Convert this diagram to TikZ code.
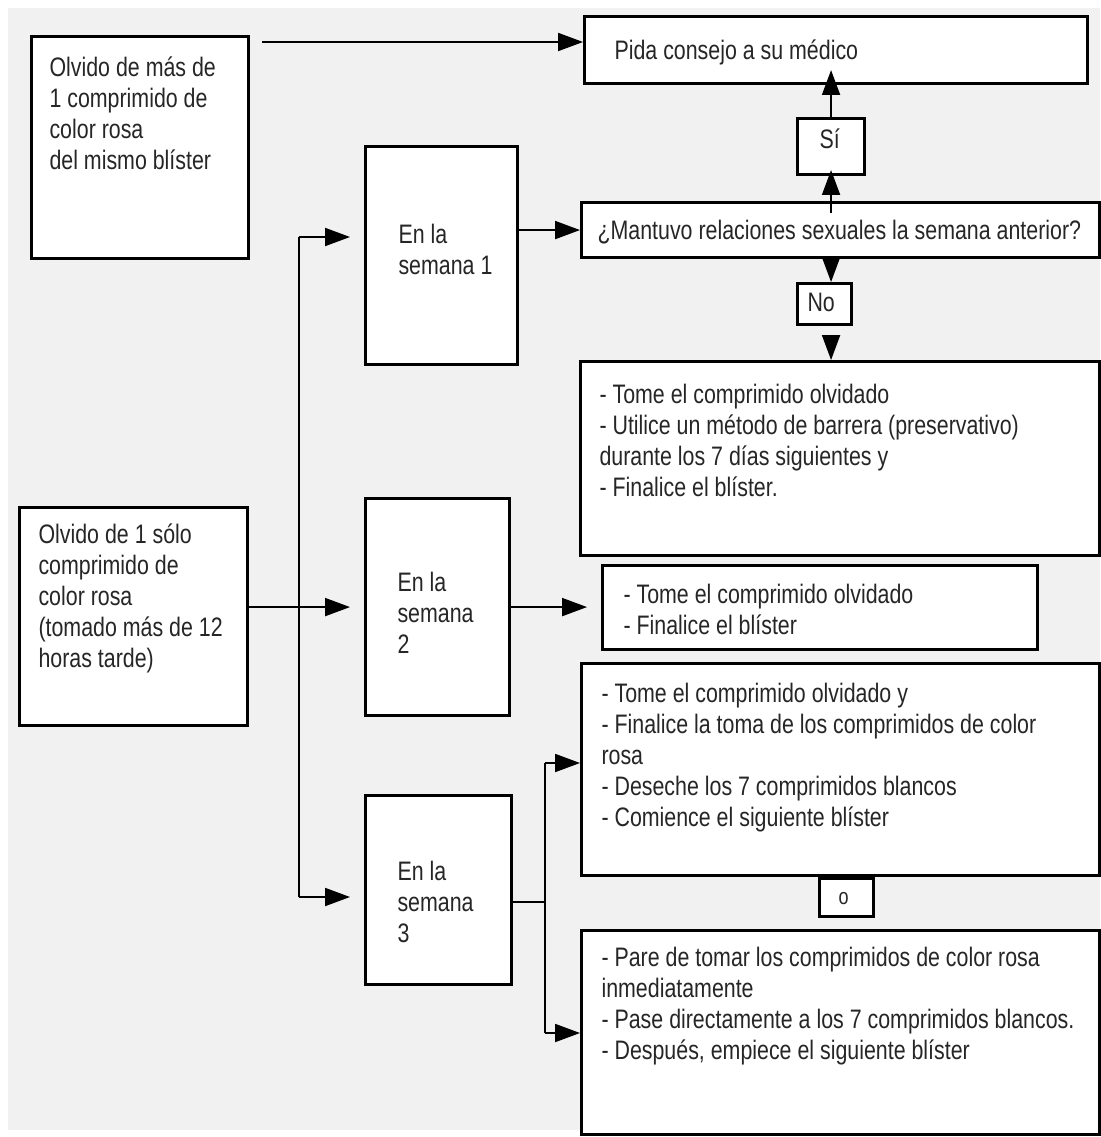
\documentclass[tikz,border=0pt]{standalone}
\usepackage{fontspec}
\setmainfont{Liberation Sans}[FakeStretch=0.8]
\usetikzlibrary{positioning}
\usetikzlibrary{arrows.meta}

\definecolor{fondo}{RGB}{241,241,241}
% texto arriba a la izquierda: ancho, alto, margen izq., hueco arriba, texto
\newcommand{\txtcaja}[5]{\parbox[t][#2][t]{#1}{\vspace*{#4}\leftskip=#3\relax\strut#5}}

\tikzset{
	caja/.style={draw=black, line width=2.2pt, fill=white, inner sep=0pt, anchor=north west, text=black!85, font=\fontsize{19}{22}\selectfont},
	flecha/.style={line width=1.1pt, -{Triangle[length=0.62cm, width=0.45cm]}},
	linea/.style={line width=1.1pt}
}

\begin{document}
\begin{tikzpicture}[x=0.025cm, y=-0.025cm]

	\useasboundingbox (0,0) rectangle (1100,1137);
	\fill[fondo] (8,8) rectangle (1100,1130);

	\node (masdeuno) [caja] at (30,35) {\txtcaja{5.425cm}{5.55cm}{0.45cm}{0.457cm}{Olvido de más de\\1 comprimido de\\color rosa\\del mismo blíster}};
	\node (unsolo) [caja] at (18,506) {\txtcaja{5.7cm}{5.45cm}{0.475cm}{0.357cm}{Olvido de 1 sólo\\comprimido de\\color rosa\\(tomado más de 12\\horas tarde)}};

	\node (sem1) [caja] at (364,145) {\txtcaja{3.8cm}{5.45cm}{0.825cm}{1.882cm}{En la\\semana 1}};
	\node (sem2) [caja] at (364,497) {\txtcaja{3.6cm}{5.425cm}{0.8cm}{1.782cm}{En la\\semana\\2}};
	\node (sem3) [caja] at (364,794) {\txtcaja{3.65cm}{4.725cm}{0.8cm}{1.582cm}{En la\\semana\\3}};

	\node (medico) [caja] at (583,15) {\txtcaja{12.575cm}{1.675cm}{0.75cm}{0.532cm}{Pida consejo a su médico}};
	\node (si) [caja] at (796,117) {\txtcaja{1.675cm}{1.4cm}{0.55cm}{0.207cm}{Sí}};
	\node (pregunta) [caja] at (580,201) {\txtcaja{12.95cm}{1.375cm}{0.4cm}{0.382cm}{¿Mantuvo relaciones sexuales la semana anterior?}};
	\node (no) [caja] at (796,282) {\txtcaja{1.35cm}{1.025cm}{0.25cm}{0.157cm}{No}};
	\node (res1) [caja] at (579,360) {\txtcaja{12.975cm}{4.85cm}{0.475cm}{0.507cm}{- Tome el comprimido olvidado\\- Utilice un método de barrera (preservativo)\\durante los 7 días siguientes y\\- Finalice el blíster.}};

	\node (res2) [caja] at (601,564) {\txtcaja{10.875cm}{2.1cm}{0.525cm}{0.407cm}{- Tome el comprimido olvidado\\- Finalice el blíster}};

	\node (res3a) [caja] at (580,662) {\txtcaja{12.95cm}{5.3cm}{0.5cm}{0.432cm}{- Tome el comprimido olvidado y\\- Finalice la toma de los comprimidos de color\\rosa\\- Deseche los 7 comprimidos blancos\\- Comience el siguiente blíster}};
	\node (o) [caja, font=\fontsize{16}{19}\selectfont] at (818,877) {\txtcaja{1.35cm}{0.95cm}{0.475cm}{0.18cm}{o}};
	\node (res3b) [caja] at (580,929) {\txtcaja{12.95cm}{5.1cm}{0.5cm}{0.357cm}{- Pare de tomar los comprimidos de color rosa\\inmediatamente\\- Pase directamente a los 7 comprimidos blancos.\\- Después, empiece el siguiente blíster}};

	% arriba
	\coordinate (ini) at ([xshift=0.3cm, yshift=-0.175cm]masdeuno.north east);
	\path[draw, flecha] (ini) -- (ini -| medico.west);
	\path[draw, flecha, shorten >=-0.375cm] (si.north) -- (si.north |- medico.south);
	\path[draw, flecha, shorten <=-0.3cm, shorten >=-0.15cm] (si.south |- pregunta.north) -- (si.south);
	\path[draw, flecha] (si.south |- pregunta.south) -- (si.south |- no.north);
	\path[draw, flecha, shorten <=0.3cm] (si.south |- no.south) -- (si.south |- res1.north);
	\path[draw, flecha] (sem1.east |- pregunta.west) -- (pregunta.west);

	% tronco
	\coordinate (t1) at (299,237);
	\coordinate (t3) at (299,897);
	\path[draw, linea] (t1) -- (t3);
	\path[draw, flecha, shorten >=0.35cm] (t1) -- (t1 -| sem1.west);
	\path[draw, flecha, shorten >=0.35cm] (unsolo.east |- sem2.west) -- (sem2.west);
	\path[draw, flecha, shorten >=0.35cm] (t3) -- (t3 -| sem3.west);
	\path[draw, flecha, shorten >=0.35cm] (sem2.east) -- (sem2.east -| res2.west);

	% semana 3
	\coordinate (ll0) at (545,902);
	\coordinate (ll1) at (545,763);
	\coordinate (ll2) at (545,1033);
	\path[draw, linea] (ll0 -| sem3.east) -- (ll0);
	\path[draw, linea] (ll1) -- (ll2);
	\path[draw, flecha] (ll1) -- (ll1 -| res3a.west);
	\path[draw, flecha] (ll2) -- (ll2 -| res3b.west);

\end{tikzpicture}
\end{document}
